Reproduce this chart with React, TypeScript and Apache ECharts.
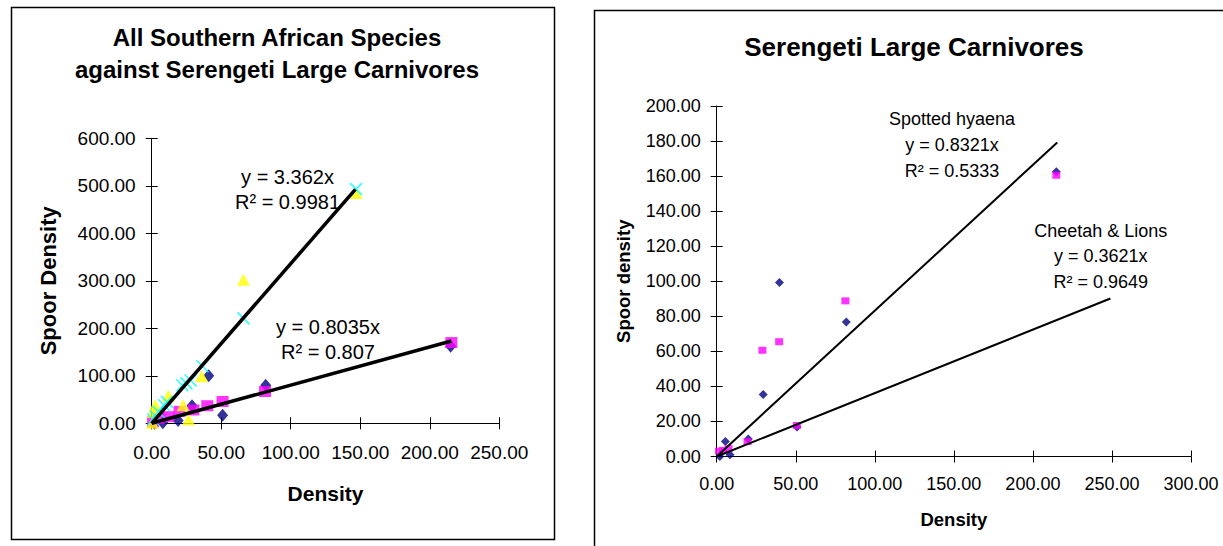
import React, { useEffect, useRef } from "react";
import * as echarts from "echarts";

// ---------- data ----------
const leftXTicks = [0, 50, 100, 150, 200, 250];
const leftYTicks = [0, 100, 200, 300, 400, 500, 600];
const rightXTicks = [0, 50, 100, 150, 200, 250, 300];
const rightYTicks = [0, 20, 40, 60, 80, 100, 120, 140, 160, 180, 200];

const leftNavy = [[2, 0], [8, 1], [19, 6], [29, 37], [41, 100], [51, 17], [82, 80], [215, 162]];
const leftMagenta = [[1, 3], [5, 10], [12, 14], [20, 25], [30, 28], [40, 37], [51, 46], [81.5, 67], [215.5, 170]];
const leftYellow = [[0.5, 1], [1.2, 24], [2.5, 38], [12, 58], [22.5, 38], [26.5, 8], [36, 99], [66, 302], [147, 485]];
const leftCyan = [[1, 8], [3, 14], [5, 24], [9, 38], [11, 45], [22, 80], [25, 84], [28, 90], [36.5, 120], [66, 221], [147, 493]];

const rightNavy = [[2, 0], [5.5, 8.5], [8.4, 1], [20, 10], [29.4, 35.4], [39.7, 99.3], [50.8, 16.8], [82, 76.8], [214.8, 162.5]];
const rightMagenta = [[1.5, 3], [4, 3.5], [7.5, 4.5], [19.5, 8.5], [28.9, 60.6], [39.5, 65.5], [50.7, 17.7], [81.4, 88.8], [214.8, 160.5]];

const leftTrendSlopes = [3.362, 0.8035];
const leftTrendEnds = [146.5, 215.5];
const rightTrendSlopes = [0.8321, 0.3621];
const rightTrendEnds = [215.4, 249];

const leftTitle = "All Southern African Species\nagainst Serengeti Large Carnivores";
const rightTitle = "Serengeti Large Carnivores";
const leftTrendLabels = ["y = 3.362x\nR² = 0.9981", "y = 0.8035x\nR² = 0.807"];
const rightTrendLabels = ["Spotted hyaena\ny = 0.8321x\nR² = 0.5333", "Cheetah & Lions\ny = 0.3621x\nR² = 0.9649"];

// ---------- helpers ----------
const FONT = "'Liberation Sans', Arial, sans-serif";
const NAVY = "#000080";
const MAGENTA = "#FF00FF";
const YELLOW = "#FFFF00";
const CYAN = "#00FFFF";

const fmt = (v: number) => v.toFixed(2);
const trend = (slope: number, end: number) => [[0, 0], [end, slope * end]];

function valueAxis(ticks: number[], gridIndex: number, opts: any) {
  return {
    type: "value",
    gridIndex,
    min: ticks[0],
    max: ticks[ticks.length - 1],
    interval: ticks[1] - ticks[0],
    splitLine: { show: false },
    axisLine: { show: true, onZero: false, lineStyle: { color: "#000", width: 1 } },
    axisTick: { show: true, inside: false, length: 6, lineStyle: { color: "#000", width: 1 } },
    axisLabel: { show: true, color: "#000", fontFamily: FONT, formatter: fmt },
    ...opts,
  };
}

function innerAxis(ticks: number[], gridIndex: number) {
  return {
    type: "value",
    gridIndex,
    min: ticks[0],
    max: ticks[ticks.length - 1],
    interval: ticks[1] - ticks[0],
    splitLine: { show: false },
    axisLine: { show: false },
    axisTick: { show: true, inside: true, length: 6, lineStyle: { color: "#000", width: 1 } },
    axisLabel: { show: false },
  };
}

export default function App() {
  const ref = useRef<HTMLDivElement>(null);

  useEffect(() => {
    if (!ref.current) return;
    const chart = echarts.init(ref.current, null, { renderer: "svg" });

    const gridL = { left: 151.7, top: 138.3, width: 347.6, height: 285 };
    const gridR = { left: 716.7, top: 106, width: 474.3, height: 350.5 };

    const option: any = {
      animation: false,
      backgroundColor: "#fff",
      title: [
        {
          text: leftTitle,
          left: 277,
          top: 21,
          textAlign: "center",
          padding: 0,
          textStyle: { fontFamily: FONT, fontSize: 24, fontWeight: "bold", color: "#000", lineHeight: 32 },
        },
        {
          text: rightTitle,
          left: 914,
          top: 32,
          textAlign: "center",
          padding: 0,
          textStyle: { fontFamily: FONT, fontSize: 26, fontWeight: "bold", color: "#000", lineHeight: 30 },
        },
      ],
      grid: [gridL, { ...gridL }, gridR, { ...gridR }],
      xAxis: [
        valueAxis(leftXTicks, 0, {
          name: "Density",
          nameLocation: "middle",
          nameGap: 60,
          nameTextStyle: { fontFamily: FONT, fontSize: 21, fontWeight: "bold", color: "#000" },
          axisLabel: { show: true, color: "#000", fontFamily: FONT, fontSize: 19, margin: 20, formatter: fmt },
        }),
        innerAxis(leftXTicks, 1),
        valueAxis(rightXTicks, 2, {
          name: "Density",
          nameLocation: "middle",
          nameGap: 53,
          nameTextStyle: { fontFamily: FONT, fontSize: 18.5, fontWeight: "bold", color: "#000" },
          axisLabel: { show: true, color: "#000", fontFamily: FONT, fontSize: 18, margin: 18, formatter: fmt },
        }),
        innerAxis(rightXTicks, 3),
      ],
      yAxis: [
        valueAxis(leftYTicks, 0, {
          name: "Spoor Density",
          nameLocation: "middle",
          nameGap: 92,
          nameTextStyle: { fontFamily: FONT, fontSize: 22, fontWeight: "bold", color: "#000" },
          axisLabel: { show: true, color: "#000", fontFamily: FONT, fontSize: 19, margin: 16, formatter: fmt },
        }),
        innerAxis(leftYTicks, 1),
        valueAxis(rightYTicks, 2, {
          name: "Spoor density",
          nameLocation: "middle",
          nameGap: 84,
          nameTextStyle: { fontFamily: FONT, fontSize: 18.5, fontWeight: "bold", color: "#000" },
          axisLabel: { show: true, color: "#000", fontFamily: FONT, fontSize: 18, margin: 16, formatter: fmt },
        }),
        innerAxis(rightYTicks, 3),
      ],
      series: [
        // left chart
        {
          type: "scatter", xAxisIndex: 0, yAxisIndex: 0, data: leftNavy,
          symbol: "diamond", symbolSize: [11, 13], itemStyle: { color: NAVY },
        },
        {
          type: "scatter", xAxisIndex: 0, yAxisIndex: 0, data: leftMagenta,
          symbol: "rect", symbolSize: [12, 11], itemStyle: { color: MAGENTA },
        },
        {
          type: "scatter", xAxisIndex: 0, yAxisIndex: 0, data: leftYellow,
          symbol: "triangle", symbolSize: [13, 12], itemStyle: { color: YELLOW },
        },
        {
          type: "scatter", xAxisIndex: 0, yAxisIndex: 0, data: leftCyan,
          symbol: "path://M0,0L10,10M10,0L0,10", symbolSize: 12,
          itemStyle: { color: "none", borderColor: CYAN, borderWidth: 1.6 },
        },
        ...leftTrendSlopes.map((s, i) => ({
          type: "line", xAxisIndex: 0, yAxisIndex: 0, data: trend(s, leftTrendEnds[i]),
          symbol: "none", lineStyle: { color: "#000", width: 3.5 }, z: 5,
        })),
        // right chart
        {
          type: "scatter", xAxisIndex: 2, yAxisIndex: 2, data: rightNavy,
          symbol: "diamond", symbolSize: [9, 9], itemStyle: { color: NAVY },
        },
        {
          type: "scatter", xAxisIndex: 2, yAxisIndex: 2, data: rightMagenta,
          symbol: "rect", symbolSize: [8, 7], itemStyle: { color: MAGENTA },
        },
        ...rightTrendSlopes.map((s, i) => ({
          type: "line", xAxisIndex: 2, yAxisIndex: 2, data: trend(s, rightTrendEnds[i]),
          symbol: "none", lineStyle: { color: "#000", width: 2 }, z: 5,
        })),
      ],
      graphic: [
        {
          type: "rect", left: 9, top: 5, z: -1, silent: true,
          shape: { width: 543, height: 532 },
          style: { fill: "none", stroke: "#000", lineWidth: 1.5 },
        },
        {
          type: "rect", left: 592, top: 8, z: -1, silent: true,
          shape: { width: 700, height: 600 },
          style: { fill: "none", stroke: "#000", lineWidth: 1.5 },
        },
        {
          type: "text", x: 287.5, y: 164, z: 10,
          style: {
            text: leftTrendLabels[0], fontFamily: FONT, fontSize: 20, fill: "#000",
            align: "center", verticalAlign: "top", lineHeight: 25,
          },
        },
        {
          type: "text", x: 328, y: 314, z: 10,
          style: {
            text: leftTrendLabels[1], fontFamily: FONT, fontSize: 20, fill: "#000",
            align: "center", verticalAlign: "top", lineHeight: 25,
          },
        },
        {
          type: "text", x: 952, y: 105.5, z: 10,
          style: {
            text: rightTrendLabels[0], fontFamily: FONT, fontSize: 18, fill: "#000",
            align: "center", verticalAlign: "top", lineHeight: 26,
          },
        },
        {
          type: "text", x: 1100.7, y: 218, z: 10,
          style: {
            text: rightTrendLabels[1], fontFamily: FONT, fontSize: 18, fill: "#000",
            align: "center", verticalAlign: "top", lineHeight: 25.5,
          },
        },
      ],
    };

    chart.setOption(option);
    return () => chart.dispose();
  }, []);

  return (
    <div
      ref={ref}
      style={{ position: "absolute", left: 0, top: 0, width: 1223, height: 546, background: "#fff" }}
    />
  );
}
